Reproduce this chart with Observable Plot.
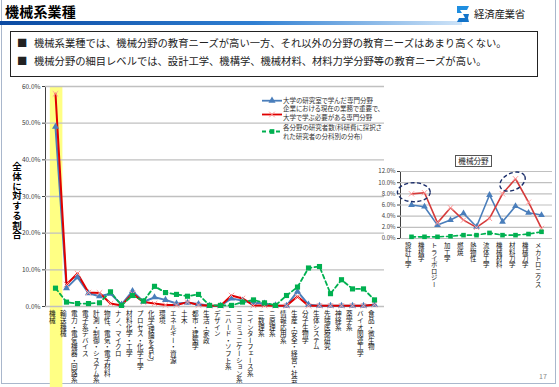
<!DOCTYPE html>
<html><head><meta charset="utf-8">
<script src="https://cdn.jsdelivr.net/npm/d3@7"></script>
<script src="https://cdn.jsdelivr.net/npm/@observablehq/plot@0.6"></script>
<style>
body{margin:0;background:#fff;font-family:"Noto Sans CJK JP","Noto Sans",sans-serif;}
#page{position:relative;width:559px;height:387px;overflow:hidden;background:#fff;}
#frame{position:absolute;left:1px;top:0;width:555px;height:384px;border:1px solid #a9b7cc;border-top:none;box-sizing:border-box;}
#title{position:absolute;left:5px;top:1px;font-size:14px;font-weight:bold;color:#000;letter-spacing:0.2px;}
#bar{position:absolute;left:0;top:21px;width:462px;height:4px;background:linear-gradient(to right,#0b4aa2,#2f7fd2 55%,#cfe4f8);}
#logo{position:absolute;left:454px;top:5px;}
#meti{position:absolute;left:474px;top:6px;font-size:10.5px;color:#222;letter-spacing:-0.3px;}
#box{position:absolute;left:10px;top:31px;width:528px;height:46px;border:1.6px solid #222;box-sizing:border-box;font-size:10.3px;color:#222;}
.bl{position:absolute;left:6px;white-space:nowrap;}
.bl span{display:inline-block;width:17px;}
#ytitle{position:absolute;left:10px;top:162px;writing-mode:vertical-rl;text-orientation:upright;font-size:9.5px;font-weight:bold;color:#000;letter-spacing:0.2px;}
#legend{position:absolute;left:258px;top:94px;}
#ititle{position:absolute;left:455px;top:155px;width:37px;height:12px;border:1px solid #555;box-sizing:border-box;font-size:7.6px;line-height:10px;text-align:center;color:#222;background:#fff;}
#pnum{position:absolute;left:539px;top:371px;font-size:7px;color:#888;}
svg.chart{position:absolute;}
</style></head>
<body><div id="page">
<div id="frame"></div>
<div id="title">機械系業種</div>
<div id="bar"></div>
<svg id="logo" width="18" height="18" viewBox="0 0 18 18">
<path d="M3 1 L15 1 L13 5 L6 5 L8 8 L3 8 Z" fill="#1f8ee0"/>
<path d="M9 9 L15 9 L14 13 L15 17 L3 17 L5 13 L11 13 Z" fill="#1273c9"/>
</svg>
<div id="meti">経済産業省</div>
<div id="box">
<div class="bl" style="top:3px"><span>■</span>機械系業種では、機械分野の教育ニーズが高い一方、それ以外の分野の教育ニーズはあまり高くない。</div>
<div class="bl" style="top:21px"><span>■</span>機械分野の細目レベルでは、設計工学、機構学、機械材料、材料力学分野等の教育ニーズが高い。</div>
</div>
<div id="ytitle">全体に対する割合</div>
<div id="pnum">17</div>
</div>
<script>
// ---- main chart data (percent of total) ----
const categories = ["機械","輸送機械","電力・電気機器・回路系","電子系デバイス","計測・制御・システム系","物性、電気・電子材料","ナノ、マイクロ","材料化学・工学","プロセス・化学工学","化学(理論を含む)","環境","エネルギー・資源","土木","都市・建築学","生活・家政","デザイン","ニハード・ソフト系","ニコミュニケーション系","ニインターフェース系","ニ数理系","ニ原理系","情報応用系","生産・安全・経営・社会","分子生物学","生体システム","先端医療研究","神経系","薬学系","バイオ関連工学","食品・微生物"];
const univStudied = [49, 5, 8, 3.6, 2.8, 3.5, 0.5, 4.2, 1.3, 2.5, 1.8, 0.8, 1.0, 0.7, 0.2, 0.2, 2.2, 1.6, 1.0, 0.8, 0.3, 0.2, 4.1, 0.5, 0.2, 0.2, 0.2, 0.2, 0.2, 0.5];
const companyNeed = [58, 6, 9, 3.8, 3.7, 0.8, 0.3, 3.5, 1.2, 0.8, 0.4, 0.4, 1.2, 0.4, 0.2, 0.2, 3.0, 2.2, 0.3, 0.3, 0.2, 0.2, 2.7, 0.2, 0.2, 0.2, 0.2, 0.2, 0.2, 0.5];
const researchers = [5, 1.2, 0.8, 0.8, 1.0, 4.0, 0.3, 3.0, 1.5, 5.5, 3.8, 3.3, 2.8, 3.3, 0.3, 0.3, 0.3, 1.2, 1.8, 1.0, 0.3, 3.0, 5.3, 10.5, 10.9, 3.5, 7.3, 4.8, 4.8, 1.8];
const mainTicks = [0, 10, 20, 30, 40, 50, 60];
const highlightCat = "機械";

// ---- inset (機械分野) data ----
const insetTitle = "機械分野";
const insetCats = ["設計工学","機構学","トライボロジー","加工学","燃焼","熱物性","流体工学","機械材料","材料力学","機械力学","メカトロニクス"];
const insetUniv = [6.0, 5.7, 2.4, 3.3, 4.5, 2.1, 7.8, 3.0, 5.8, 4.6, 4.2];
const insetNeed = [8.0, 8.2, 2.8, 5.5, 3.3, 2.0, 3.6, 8.0, 10.7, 6.5, 1.8];
const insetRes = [0.3, 0.3, 0.3, 0.4, 0.6, 0.6, 1.0, 0.6, 0.6, 0.8, 1.2];
const insetTicks = [0, 2, 4, 6, 8, 10, 12];
const insetCircled = [{cats:["設計工学","機構学"], value:8.2}, {cats:["機械材料","材料力学"], value:10.1}];

// ---- series ----
const seriesNames = ["大学の研究室で学んだ専門分野", "企業における現在の業務で重要で、\n大学で学ぶ必要がある専門分野", "各分野の研究者数(科研費に採択さ\nれた研究者の分科別の分布)"];
const blue = "#4a7ebb", red = "#e00000", redInset = "#d53a3a", pink = "#ff9c9c", green = "#00b050";
const fmt = d => d.toFixed(1) + "%";
const font = '"Noto Sans CJK JP", sans-serif';

const page = document.getElementById("page");

function verticalize(svg) {
  d3.select(svg).selectAll('g[aria-label="text"]').attr("dy", null);
  d3.select(svg).selectAll('g[aria-label="text"] text')
    .attr("dy", null)
    .style("writing-mode", "vertical-rl");
}

// main chart
const mainRows = categories.map((c, i) => ({cat: c, a: univStudied[i], b: companyNeed[i], c: researchers[i]}));
const MW = 390, MH = 307, mt = 6, mb = 81;
const yBottom = -mb / (MH - mt - mb) * 60;
const labelSize = 6.6;
const main = Plot.plot({
  width: MW, height: MH, marginLeft: 45, marginRight: 6, marginTop: mt, marginBottom: mb,
  style: {background: "transparent", fontFamily: font, fontSize: "6.5px", color: "#404040", overflow: "hidden"},
  x: {type: "point", domain: categories, padding: 0.5, axis: null},
  y: {domain: [0, 60], ticks: mainTicks, tickFormat: fmt, tickSize: 3, tickPadding: 2, label: null, line: true},
  marks: [
    Plot.ruleX([highlightCat], {y1: 60, y2: yBottom, stroke: "#ffff84", strokeWidth: 12.6, dx: 0.6}),
    Plot.ruleY(mainTicks, {stroke: "#c0c0c0", strokeWidth: 1.3}),
    Plot.line(mainRows, {x: "cat", y: "a", stroke: blue, strokeWidth: 2}),
    Plot.line(mainRows, {x: "cat", y: "b", stroke: red, strokeWidth: 2}),
    Plot.line(mainRows, {x: "cat", y: "c", stroke: green, strokeWidth: 1.8, strokeDasharray: "4,3"}),
    Plot.dot(mainRows, {x: "cat", y: "a", symbol: "triangle", fill: blue, r: 2.6}),
    Plot.dot(mainRows, {x: "cat", y: "b", symbol: "times", stroke: pink, strokeWidth: 1, r: 2.6}),
    Plot.dot(mainRows, {x: "cat", y: "c", symbol: "square", fill: green, r: 2.9}),
    Plot.text(categories, {x: d => d, text: d => d, frameAnchor: "bottom", dy: 4, dx: -labelSize / 2, textAnchor: "start", fontSize: labelSize, fill: "#111"})
  ]
});
main.classList.add("chart");
main.style.left = "0px"; main.style.top = "80px";
verticalize(main);
page.appendChild(main);

// inset chart
const insetRows = insetCats.map((c, i) => ({cat: c, a: insetUniv[i], b: insetNeed[i], c: insetRes[i]}));
const IW = 199, IH = 145, ilabel = 6.4;
const inset = Plot.plot({
  width: IW, height: IH, marginLeft: 40, marginRight: 7, marginTop: 21, marginBottom: 57,
  style: {background: "transparent", fontFamily: font, fontSize: "6px", color: "#404040", overflow: "hidden"},
  x: {type: "point", domain: insetCats, padding: 0.5, axis: null},
  y: {domain: [0, 12], ticks: insetTicks, tickFormat: fmt, tickSize: 3, tickPadding: 2, label: null, line: true},
  marks: [
    Plot.ruleY(insetTicks, {stroke: "#c0c0c0", strokeWidth: 1.2}),
    Plot.line(insetRows, {x: "cat", y: "a", stroke: blue, strokeWidth: 1.6}),
    Plot.line(insetRows, {x: "cat", y: "b", stroke: redInset, strokeWidth: 1.6}),
    Plot.line(insetRows, {x: "cat", y: "c", stroke: green, strokeWidth: 1.6, strokeDasharray: "4,3"}),
    Plot.dot(insetRows, {x: "cat", y: "a", symbol: "triangle", fill: blue, r: 2.5}),
    Plot.dot(insetRows, {x: "cat", y: "b", symbol: "times", stroke: pink, strokeWidth: 1, r: 2.5}),
    Plot.dot(insetRows, {x: "cat", y: "c", symbol: "square", fill: green, r: 2.6}),
    Plot.text(insetCats, {x: d => d, text: d => d, frameAnchor: "bottom", dy: 4, dx: -ilabel / 2, textAnchor: "start", fontSize: ilabel, fill: "#111"})
  ]
});
inset.classList.add("chart");
inset.style.left = "360px"; inset.style.top = "150px";
verticalize(inset);
// dashed ellipses around highlighted sub-fields
{
  const sx = inset.scale("x"), sy = inset.scale("y");
  const px = d3.scalePoint().domain(sx.domain).range(sx.range).padding(sx.padding ?? 0.5).align(sx.align ?? 0.5);
  const py = d3.scaleLinear().domain(sy.domain).range(sy.range);
  const sel = d3.select(inset);
  insetCircled.forEach((g, i) => {
    const x0 = px(g.cats[0]), x1 = px(g.cats[1]);
    const cx = (x0 + x1) / 2 + (i ? 2 : 0), cy = py(g.value);
    sel.append("ellipse").attr("cx", cx).attr("cy", cy)
      .attr("rx", (x1 - x0) / 2 + (i ? 6.5 : 9.5)).attr("ry", i ? 8.5 : 9.5)
      .attr("transform", i ? `rotate(-25 ${cx} ${cy})` : null)
      .attr("fill", "none").attr("stroke", "#1c2f6b").attr("stroke-width", 1.4).attr("stroke-dasharray", "4,2.5");
  });
}
page.appendChild(inset);

const it = document.createElement("div");
it.id = "ititle"; it.textContent = insetTitle; page.appendChild(it);

// legend
{
  const lg = d3.select(page).append("svg").attr("id", "legend").attr("width", 140).attr("height", 50)
    .style("font-family", font).style("font-size", "6.5px").style("font-feature-settings", '"palt"');
  const rows = [
    {y: 6.7, ty: [6.7], color: blue, dash: null, sym: "triangle", fill: blue, stroke: "none"},
    {y: 20.5, ty: [15.1, 23.5], color: red, dash: null, sym: "times", fill: "none", stroke: pink},
    {y: 37.5, ty: [34.1, 42.7], color: green, dash: "4,3", sym: "square", fill: green, stroke: "none"}
  ];
  const symbols = {triangle: d3.symbolTriangle, times: d3.symbolTimes, square: d3.symbolSquare};
  rows.forEach((r, i) => {
    lg.append("line").attr("x1", 4).attr("x2", 24).attr("y1", r.y).attr("y2", r.y)
      .attr("stroke", r.color).attr("stroke-width", 1.8).attr("stroke-dasharray", r.dash);
    lg.append("path").attr("d", d3.symbol(symbols[r.sym], 22)()).attr("transform", `translate(14,${r.y})`)
      .attr("fill", r.fill).attr("stroke", r.stroke);
    seriesNames[i].split("\n").forEach((t, j) => {
      lg.append("text").attr("x", 25).attr("y", r.ty[j]).attr("dy", "0.35em").attr("fill", "#333").text(t);
    });
  });
}
</script>
</body></html>
